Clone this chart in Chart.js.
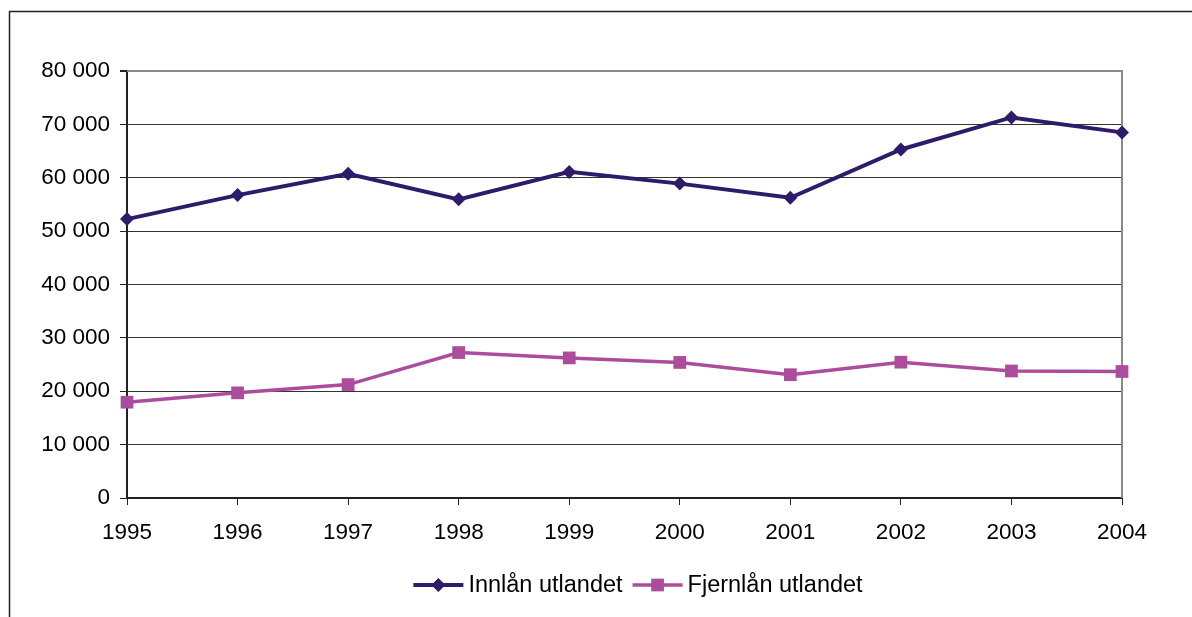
<!DOCTYPE html>
<html>
<head>
<meta charset="utf-8">
<title>Innlån og fjernlån utlandet</title>
<script src="https://cdn.jsdelivr.net/npm/chart.js@4/dist/chart.umd.min.js"></script>
<style>
    html, body { margin: 0; padding: 0; background: #fff; }
    #wrap { position: relative; width: 1192px; height: 617px; }
</style>
</head>
<body>
<div id="wrap"><canvas id="lanChart" width="1192" height="617"></canvas></div>
<script>
// ========== DATA ==========
const years = ['1995', '1996', '1997', '1998', '1999', '2000', '2001', '2002', '2003', '2004'];
const innlanUtlandet = [52250, 56750, 60750, 55950, 61100, 58900, 56250, 65300, 71300, 68500];
const fjernlanUtlandet = [17950, 19700, 21250, 27250, 26250, 25400, 23100, 25450, 23800, 23700];
const yTicks = [0, 10000, 20000, 30000, 40000, 50000, 60000, 70000, 80000];

const seriesNames = ['Innlån utlandet', 'Fjernlån utlandet'];
const seriesColors = ['#2E1B6A', '#AC4C9C'];

const FONT = '"Liberation Sans", Arial, sans-serif';

// Thousands with a space, like "80 000"
function formatNumber(v) {
    return String(v).replace(/\B(?=(\d{3})+(?!\d))/g, ' ');
}

// Frame round the whole chart + grey top/right of plot area
const framePlugin = {
    id: 'frame',
    beforeDatasetsDraw(chart) {
        const { ctx, chartArea } = chart;
        ctx.save();
        ctx.strokeStyle = '#8a8a8a';
        ctx.lineWidth = 2;
        ctx.beginPath();
        ctx.moveTo(chartArea.left, chartArea.top);
        ctx.lineTo(chartArea.right, chartArea.top);
        ctx.lineTo(chartArea.right, chartArea.bottom);
        ctx.stroke();
        ctx.restore();
    },
    afterDraw(chart) {
        const ctx = chart.ctx;
        ctx.save();
        ctx.strokeStyle = '#222';
        ctx.lineWidth = 1.5;
        ctx.beginPath();
        ctx.moveTo(9.5, chart.height);
        ctx.lineTo(9.5, 11.5);
        ctx.lineTo(chart.width, 11.5);
        ctx.stroke();
        ctx.restore();
    }
};

// Legend: line sample with marker, then label
const legendPlugin = {
    id: 'lineLegend',
    afterDraw(chart, args, opts) {
        const ctx = chart.ctx;
        const sample = 50, gap = 5, between = 10;
        ctx.save();
        ctx.font = opts.fontSize + 'px ' + FONT;
        ctx.textBaseline = 'middle';
        const widths = chart.data.datasets.map(ds => ctx.measureText(ds.label).width);
        let total = 0;
        widths.forEach((w, i) => { total += sample + gap + w + (i ? between : 0); });
        let x = opts.centerX - total / 2;
        const y = opts.y;
        chart.data.datasets.forEach((ds, i) => {
            if (i) x += between;
            ctx.strokeStyle = ds.borderColor;
            ctx.lineWidth = ds.borderWidth;
            ctx.beginPath();
            ctx.moveTo(x, y);
            ctx.lineTo(x + sample, y);
            ctx.stroke();
            const cx = x + sample / 2;
            const r = ds.pointRadius;
            ctx.fillStyle = ds.borderColor;
            ctx.beginPath();
            if (ds.pointStyle === 'rectRot') {
                ctx.moveTo(cx, y - r);
                ctx.lineTo(cx + r, y);
                ctx.lineTo(cx, y + r);
                ctx.lineTo(cx - r, y);
                ctx.closePath();
            } else {
                const h = r * Math.SQRT1_2;
                ctx.rect(cx - h, y - h, 2 * h, 2 * h);
            }
            ctx.fill();
            x += sample + gap;
            ctx.fillStyle = '#000';
            ctx.fillText(ds.label, x, y + 1);
            x += widths[i];
        });
        ctx.restore();
    }
};

new Chart(document.getElementById('lanChart'), {
    type: 'line',
    data: {
        labels: years,
        datasets: [{
            label: seriesNames[0],
            data: innlanUtlandet,
            borderColor: seriesColors[0],
            backgroundColor: seriesColors[0],
            borderWidth: 4,
            pointStyle: 'rectRot',
            pointRadius: 7,
            pointBorderWidth: 0,
            tension: 0
        }, {
            label: seriesNames[1],
            data: fjernlanUtlandet,
            borderColor: seriesColors[1],
            backgroundColor: seriesColors[1],
            borderWidth: 3.5,
            pointStyle: 'rect',
            pointRadius: 9,
            pointBorderWidth: 0,
            tension: 0
        }]
    },
    options: {
        responsive: false,
        animation: false,
        layout: { padding: { top: 71, right: 70, left: 0, bottom: 0 } },
        plugins: {
            legend: { display: false },
            tooltip: { enabled: false },
            lineLegend: { centerX: 638, y: 585, fontSize: 23.5 }
        },
        scales: {
            x: {
                offset: false,
                afterFit(scale) { scale.height = 119; },
                grid: { drawOnChartArea: false, drawTicks: true, tickLength: 7, color: '#222', tickColor: '#222' },
                border: { color: '#222', width: 2 },
                ticks: { color: '#000', font: { family: FONT, size: 22.5 }, padding: 14, maxRotation: 0 }
            },
            y: {
                min: 0,
                max: 80000,
                afterFit(scale) { scale.width = 127; },
                afterBuildTicks(scale) { scale.ticks = yTicks.map(v => ({ value: v })); },
                grid: {
                    tickLength: 7,
                    color: ctx => ctx.tick && ctx.tick.value === 80000 ? '#8a8a8a' : '#333',
                    lineWidth: ctx => ctx.tick && ctx.tick.value === 80000 ? 2 : 1,
                    tickColor: '#222'
                },
                border: { color: '#222', width: 2 },
                ticks: {
                    color: '#000',
                    font: { family: FONT, size: 22.5 },
                    padding: 10,
                    callback: v => formatNumber(v)
                }
            }
        }
    },
    plugins: [framePlugin, legendPlugin]
});
</script>
</body>
</html>
